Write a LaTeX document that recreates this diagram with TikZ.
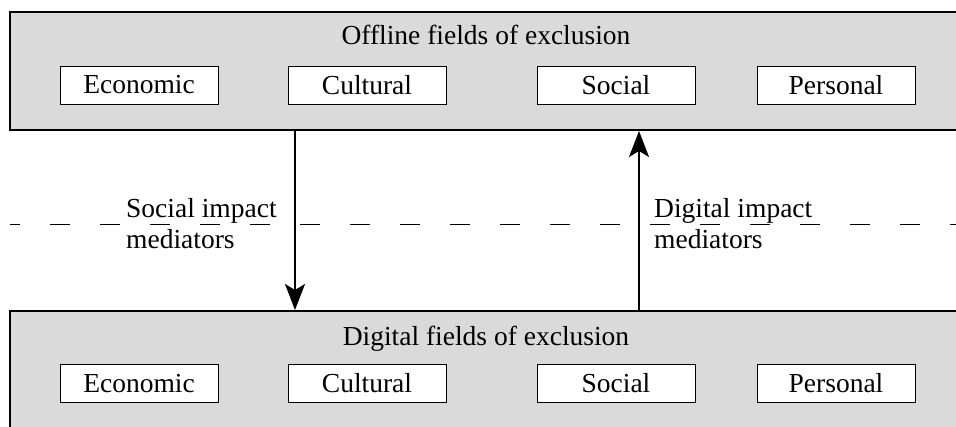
\documentclass[tikz,border=0pt]{standalone}
\usepackage{fontspec}
\setmainfont{Liberation Serif}
\usetikzlibrary{arrows.meta}
\begin{document}
\begin{tikzpicture}[x=1pt,y=-1pt,
  txt/.style={font=\fontsize{27.5}{31}\selectfont, inner sep=0pt},
  field/.style={draw=black, line width=2pt, fill=fieldgray, inner sep=0pt},
  cat/.style={draw=black, line width=1pt, fill=white, minimum width=158pt, minimum height=38pt, inner sep=0pt, font=\fontsize{27.5}{31}\selectfont},
  arr/.style={line width=2pt, -{Stealth[length=26pt,width=20pt,inset=6pt]}},
  sep/.style={line width=1pt, dash pattern=on 20pt off 30pt, dash phase=10pt}]
\definecolor{fieldgray}{HTML}{DADADA}
\clip (0,0) rectangle (956,426);
% field boxes
\node[field, minimum width=950pt, minimum height=118pt] (top) at (485,71) {};
\node[field, minimum width=950pt, minimum height=130pt] (bot) at (485,376) {};
% titles
\node[txt, anchor=base] (toptitle) at (486,44) {Offline fields of exclusion};
\node[txt, anchor=base] (bottitle) at (486,345) {Digital fields of exclusion};
% categories
\node[cat] (te) at (139,85) {Economic};
\node[cat] (tc) at (367,85) {Cultural};
\node[cat] (ts) at (616,85) {Social};
\node[cat] (tp) at (836,85) {Personal};
\node[cat] (be) at (139,383.5) {Economic};
\node[cat] (bc) at (367,383.5) {Cultural};
\node[cat] (bs) at (616,383.5) {Social};
\node[cat] (bp) at (836,383.5) {Personal};
% dashed separator
\coordinate (dl) at (10,224);
\coordinate (dr) at (956,224);
\draw[sep] (dl) -- (dr);
% arrows
\coordinate (dx) at (295,0);
\coordinate (ux) at (639,0);
\draw[arr] (top.south -| dx) -- (bot.north -| dx);
\draw[arr] (bot.north -| ux) -- (top.south -| ux);
% labels
\node[txt, anchor=north west, align=left] (lsoc) at (126,198) {Social impact\\mediators};
\node[txt, anchor=north west, align=left] (ldig) at (654,198) {Digital impact\\mediators};
\end{tikzpicture}
\end{document}
